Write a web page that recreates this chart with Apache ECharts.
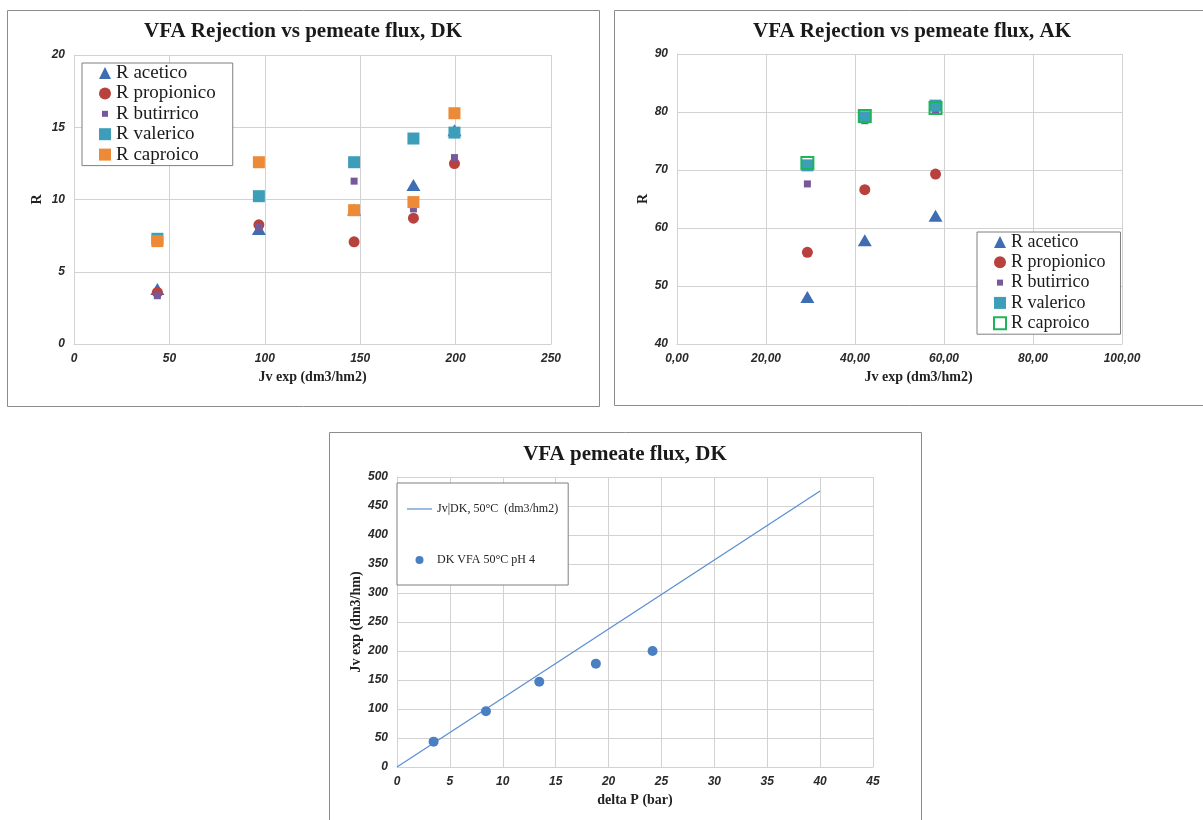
<!DOCTYPE html>
<html>
<head>
<meta charset="utf-8">
<script src="https://cdn.jsdelivr.net/npm/echarts@6/dist/echarts.min.js"></script>
<style>
  html, body { margin: 0; padding: 0; background: #fff; }
  #main { width: 1203px; height: 820px; }
</style>
</head>
<body>
<div id="main"></div>
<script>
// ---------- DATA ----------
// Chart 1: VFA Rejection vs permeate flux, DK
const DK_JV = [43.7, 96.9, 146.8, 177.9, 199.4];
const DK_ACETICO = [3.8, 7.95, 9.3, 11.0, 14.8];
const DK_PROPIONICO = [3.57, 8.25, 7.07, 8.71, 12.49];
const DK_BUTIRRICO = [3.34, 8.1, 11.27, 9.35, 12.9];
const DK_VALERICO = [7.28, 10.23, 12.58, 14.22, 14.63];
const DK_CAPROICO = [7.12, 12.58, 9.26, 9.82, 15.97];

// Chart 2: VFA Rejection vs permeate flux, AK
const AK_JV = [29.3, 42.2, 58.1];
const AK_ACETICO = [48.1, 57.9, 62.1];
const AK_PROPIONICO = [55.8, 66.6, 69.3];
const AK_BUTIRRICO = [67.6, 78.5, 80.3];
const AK_VALERICO = [70.8, 79.1, 81.1];
const AK_CAPROICO = [71.2, 79.3, 80.7];

// Chart 3: VFA permeate flux, DK
const DELTA_P = [3.46, 8.41, 13.45, 18.8, 24.16];
const JV_EXP = [43.7, 96.0, 147.1, 178.2, 200.0];
const FIT_X = [0, 40];
const FIT_Y = [0, 476];

const SERIES_NAMES = ['R acetico', 'R propionico', 'R butirrico', 'R valerico', 'R caproico'];
const FIT_NAME = 'Jv|DK, 50°C  (dm3/hm2)';
const POINTS_NAME = 'DK VFA 50°C pH 4';
const TITLES = ['VFA Rejection vs pemeate flux, DK', 'VFA Rejection vs pemeate flux, AK', 'VFA pemeate flux, DK'];

// ---------- STYLE ----------
const C_ACE = '#3f6db3', C_PRO = '#b8413d', C_BUT = '#77599b', C_VAL = '#3d9eb9', C_CAP = '#ec8a37', C_GRN = '#1fb45a';
const C_PT = '#4a7fc2', C_LINE = '#5c8fd2';
const GRID_C = '#d2d2d2';
const SERIF = '"Liberation Serif", "Times New Roman", serif';
const SANS = '"Liberation Sans", Arial, sans-serif';

const zip = (xs, ys) => xs.map((x, i) => [x, ys[i]]);

function xAx(idx, min, max, interval, name, fmt, namePad) {
  return {
    type: 'value', gridIndex: idx, min, max, interval,
    name, nameLocation: 'middle', nameGap: 26,
    nameTextStyle: { fontFamily: SERIF, fontWeight: 'bold', fontSize: 14, color: '#222', padding: namePad || 0 },
    axisLine: { show: true, lineStyle: { color: GRID_C } },
    axisTick: { show: false },
    axisLabel: { margin: 9, fontFamily: SANS, fontWeight: 'bold', fontStyle: 'italic', fontSize: 12, color: '#2a2a2a', formatter: fmt },
    splitLine: { show: true, lineStyle: { color: GRID_C, width: 1 } }
  };
}
function yAx(idx, min, max, interval, name, gap) {
  return {
    type: 'value', gridIndex: idx, min, max, interval,
    name, nameLocation: 'middle', nameGap: gap,
    nameTextStyle: { fontFamily: SERIF, fontWeight: 'bold', fontSize: 14, color: '#222' },
    axisLine: { show: true, lineStyle: { color: GRID_C } },
    axisTick: { show: false },
    axisLabel: { margin: 9, fontFamily: SANS, fontWeight: 'bold', fontStyle: 'italic', fontSize: 12, color: '#2a2a2a' },
    splitLine: { show: true, lineStyle: { color: GRID_C, width: 1 } }
  };
}

const SMALL_SQ = 'path://M0,0M3,3L9,3L9,9L3,9ZM12,12';
const LINE_ICON = 'path://M0,0M0,3.4L25,3.4L25,4.6L0,4.6ZM25,8';

function sc(name, gi, xs, ys, symbol, size, style, z) {
  return {
    type: 'scatter', name, xAxisIndex: gi, yAxisIndex: gi,
    data: zip(xs, ys), symbol, symbolSize: size,
    itemStyle: Object.assign({ opacity: 1 }, style), z: z,
    emphasis: { disabled: true }
  };
}

const fmtComma = v => v.toFixed(2).replace('.', ',');

const option = {
  animation: false,
  backgroundColor: '#ffffff',
  graphic: [
    { type: 'rect', shape: { x: 7.5, y: 10.5, width: 592, height: 396 }, style: { fill: 'none', stroke: '#8c8c8c', lineWidth: 1 }, silent: true },
    { type: 'rect', shape: { x: 614.5, y: 10.5, width: 600, height: 395 }, style: { fill: 'none', stroke: '#8c8c8c', lineWidth: 1 }, silent: true },
    { type: 'rect', shape: { x: 329.5, y: 432.5, width: 592, height: 400 }, style: { fill: 'none', stroke: '#8c8c8c', lineWidth: 1 }, silent: true }
  ],
  title: [
    { text: TITLES[0], left: 303, top: 21, textAlign: 'center', padding: 0, textStyle: { fontFamily: SERIF, fontWeight: 'bold', fontSize: 21, color: '#1a1a1a' } },
    { text: TITLES[1], left: 912, top: 21, textAlign: 'center', padding: 0, textStyle: { fontFamily: SERIF, fontWeight: 'bold', fontSize: 21, color: '#1a1a1a' } },
    { text: TITLES[2], left: 625, top: 444, textAlign: 'center', padding: 0, textStyle: { fontFamily: SERIF, fontWeight: 'bold', fontSize: 21, color: '#1a1a1a' } }
  ],
  grid: [
    { left: 74, top: 55, width: 477, height: 289 },
    { left: 677, top: 54, width: 445, height: 290 },
    { left: 397, top: 477, width: 476, height: 290 }
  ],
  xAxis: [
    xAx(0, 0, 250, 50, 'Jv exp (dm3/hm2)'),
    xAx(1, 0, 100, 20, 'Jv exp (dm3/hm2)', fmtComma, [0, 0, 0, 38]),
    xAx(2, 0, 45, 5, 'delta P (bar)')
  ],
  yAxis: [
    yAx(0, 0, 20, 5, 'R', 30),
    yAx(1, 40, 90, 10, 'R', 25),
    yAx(2, 0, 500, 50, 'Jv exp (dm3/hm)', 34)
  ],
  legend: [
    {
      orient: 'vertical', left: 82, top: 63, padding: [0, 17, 1, 17],
      borderColor: '#7f7f7f', borderWidth: 1, backgroundColor: '#fff',
      itemWidth: 12, itemHeight: 12, itemGap: 0.4, selectedMode: false,
      textStyle: { fontFamily: SERIF, fontSize: 19, lineHeight: 20, color: '#1a1a1a' },
      data: [
        { name: SERIES_NAMES[0], icon: 'triangle', itemStyle: { color: C_ACE } },
        { name: SERIES_NAMES[1], icon: 'circle', itemStyle: { color: C_PRO } },
        { name: SERIES_NAMES[2], icon: SMALL_SQ, itemStyle: { color: C_BUT } },
        { name: SERIES_NAMES[3], icon: 'rect', itemStyle: { color: C_VAL } },
        { name: SERIES_NAMES[4], icon: 'rect', itemStyle: { color: C_CAP } }
      ]
    },
    {
      orient: 'vertical', left: 977, top: 232, padding: [0, 15, 1, 16],
      borderColor: '#7f7f7f', borderWidth: 1, backgroundColor: '#fff',
      itemWidth: 12, itemHeight: 12, itemGap: 0.3, selectedMode: false,
      textStyle: { fontFamily: SERIF, fontSize: 18, lineHeight: 20, color: '#1a1a1a' },
      data: [
        { name: SERIES_NAMES[0], icon: 'triangle', itemStyle: { color: C_ACE } },
        { name: SERIES_NAMES[1], icon: 'circle', itemStyle: { color: C_PRO } },
        { name: SERIES_NAMES[2], icon: SMALL_SQ, itemStyle: { color: C_BUT } },
        { name: SERIES_NAMES[3], icon: 'rect', itemStyle: { color: C_VAL } },
        { name: SERIES_NAMES[4], icon: 'path://M1,1L11,1L11,11L1,11Z', itemStyle: { color: 'rgba(255,255,255,0)', borderColor: C_GRN, borderWidth: 2 } }
      ]
    },
    {
      orient: 'vertical', left: 397, top: 483, padding: [19, 10, 18, 10],
      borderColor: '#7f7f7f', borderWidth: 1, backgroundColor: '#fff',
      itemWidth: 25, itemHeight: 8, itemGap: 37, selectedMode: false,
      textStyle: { fontFamily: SERIF, fontSize: 12, lineHeight: 14, color: '#222' },
      data: [
        { name: FIT_NAME, icon: LINE_ICON, itemStyle: { color: C_LINE } },
        { name: POINTS_NAME, icon: 'circle', itemStyle: { color: C_PT } }
      ]
    }
  ],
  series: [
    sc(SERIES_NAMES[0], 0, DK_JV, DK_ACETICO, 'triangle', [14, 12], { color: C_ACE }, 2),
    sc(SERIES_NAMES[1], 0, DK_JV, DK_PROPIONICO, 'circle', 11, { color: C_PRO }, 3),
    sc(SERIES_NAMES[2], 0, DK_JV, DK_BUTIRRICO, 'rect', 7, { color: C_BUT }, 4),
    sc(SERIES_NAMES[3], 0, DK_JV, DK_VALERICO, 'rect', 12, { color: C_VAL }, 5),
    sc(SERIES_NAMES[4], 0, DK_JV, DK_CAPROICO, 'rect', 12, { color: C_CAP }, 6),

    sc(SERIES_NAMES[0], 1, AK_JV, AK_ACETICO, 'triangle', [14, 12], { color: C_ACE }, 2),
    sc(SERIES_NAMES[1], 1, AK_JV, AK_PROPIONICO, 'circle', 11, { color: C_PRO }, 3),
    sc(SERIES_NAMES[2], 1, AK_JV, AK_BUTIRRICO, 'rect', 7, { color: C_BUT }, 4),
    sc(SERIES_NAMES[3], 1, AK_JV, AK_VALERICO, 'rect', 12, { color: C_VAL }, 5),
    sc(SERIES_NAMES[4], 1, AK_JV, AK_CAPROICO, 'rect', 12, { color: 'rgba(255,255,255,0)', borderColor: C_GRN, borderWidth: 2 }, 6),

    {
      type: 'line', name: FIT_NAME, xAxisIndex: 2, yAxisIndex: 2,
      data: zip(FIT_X, FIT_Y), symbol: 'none', showSymbol: false,
      lineStyle: { color: C_LINE, width: 1.3 }, itemStyle: { color: C_LINE }, z: 2,
      emphasis: { disabled: true }
    },
    sc(POINTS_NAME, 2, DELTA_P, JV_EXP, 'circle', 10, { color: C_PT }, 3)
  ]
};

const chart = echarts.init(document.getElementById('main'), null, { renderer: 'canvas' });
chart.setOption(option);
</script>
</body>
</html>
